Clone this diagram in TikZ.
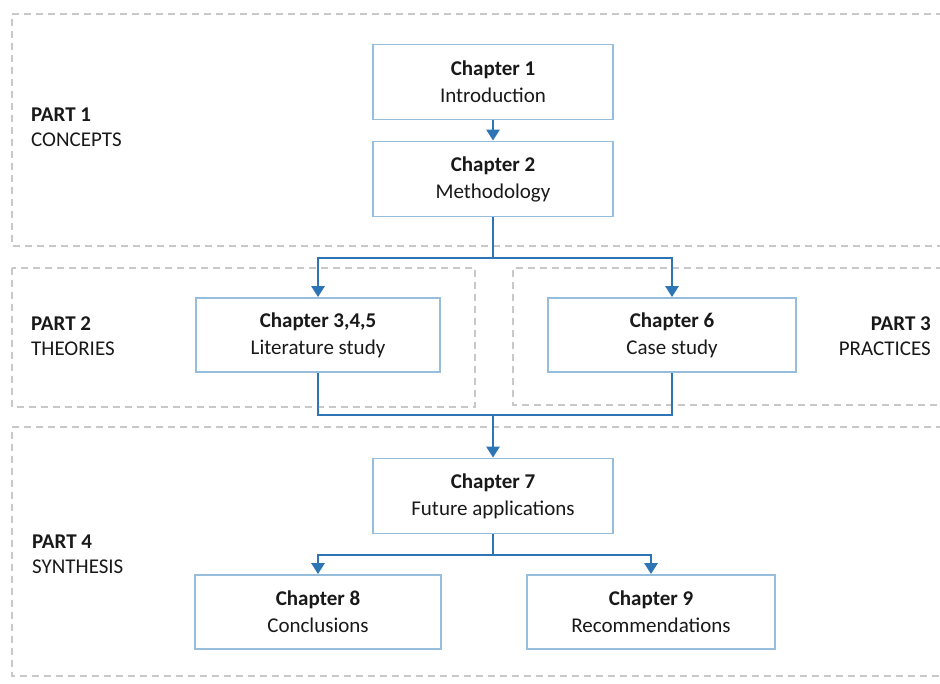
\documentclass[tikz,border=0pt]{standalone}
\usepackage{fontspec}
\setmainfont{Carlito}
\usetikzlibrary{arrows.meta}
\definecolor{boxblue}{RGB}{150,190,220}
\definecolor{linkblue}{RGB}{46,117,182}
\definecolor{dashgray}{RGB}{200,200,200}
\definecolor{inkgray}{RGB}{25,25,25}

\tikzset{
  chapbox/.style={draw=boxblue, line width=1.8pt, fill=white, rectangle,
    minimum height=75pt, align=center, text=inkgray,
    font=\fontsize{21}{27}\selectfont},
  partframe/.style={draw=dashgray, line width=1.4pt, dash pattern=on 7pt off 5pt},
  partlabel/.style={inner sep=0pt, text=inkgray, font=\fontsize{21}{25}\selectfont},
  link/.style={draw=linkblue, line width=2.8pt},
  linkarrow/.style={link, -{Triangle[width=13pt,length=11pt]}},
}

\begin{document}
\begin{tikzpicture}[x=1pt,y=-1pt]
\useasboundingbox (0,0) rectangle (940,683);

% dashed part frames (right side runs off the page)
\draw[partframe] (955,14) -- (12,14) -- (12,246) -- (955,246);
\draw[partframe] (12,268) rectangle (475,407);
\draw[partframe] (955,268) -- (513,268) -- (513,405) -- (955,405);
\draw[partframe] (955,427) -- (12,427) -- (12,676) -- (955,676);

% part labels
\node[partlabel, anchor=north west, align=left] (p1) at (31,108) {\textbf{PART 1}\\CONCEPTS};
\node[partlabel, anchor=north west, align=left] (p2) at (31,317) {\textbf{PART 2}\\THEORIES};
\node[partlabel, anchor=north east, align=right] (p3) at (931,317) {\textbf{PART 3}\\PRACTICES};
\node[partlabel, anchor=north west, align=left] (p4) at (32,535) {\textbf{PART 4}\\SYNTHESIS};

% chapter boxes
\node[chapbox, minimum width=240pt] (c1) at (493,82) {\textbf{Chapter 1}\\Introduction};
\node[chapbox, minimum width=240pt] (c2) at (493,179) {\textbf{Chapter 2}\\Methodology};
\node[chapbox, minimum width=244pt, minimum height=74pt] (c345) at (318,335) {\textbf{Chapter 3,4,5}\\Literature study};
\node[chapbox, minimum width=248pt, minimum height=74pt] (c6) at (672,335) {\textbf{Chapter 6}\\Case study};
\node[chapbox, minimum width=240pt] (c7) at (493,496) {\textbf{Chapter 7}\\Future applications};
\node[chapbox, minimum width=246pt, minimum height=74pt] (c8) at (318,612) {\textbf{Chapter 8}\\Conclusions};
\node[chapbox, minimum width=248pt, minimum height=74pt] (c9) at (651,612) {\textbf{Chapter 9}\\Recommendations};

% junction points
\coordinate (j1) at (493,258);
\coordinate (j2) at (493,415);
\coordinate (j3) at (493,555);

% connectors
\draw[linkarrow] (c1.south) -- (c2.north);
\draw[link] (c2.south) -- (j1);
\draw[linkarrow] (j1) -| (c345.north);
\draw[linkarrow] (j1) -| (c6.north);
\draw[link] (c345.south) |- (j2);
\draw[link] (c6.south) |- (j2);
\draw[linkarrow] (j2) -- (c7.north);
\draw[link] (c7.south) -- (j3);
\draw[linkarrow] (j3) -| (c8.north);
\draw[linkarrow] (j3) -| (c9.north);
\end{tikzpicture}
\end{document}
